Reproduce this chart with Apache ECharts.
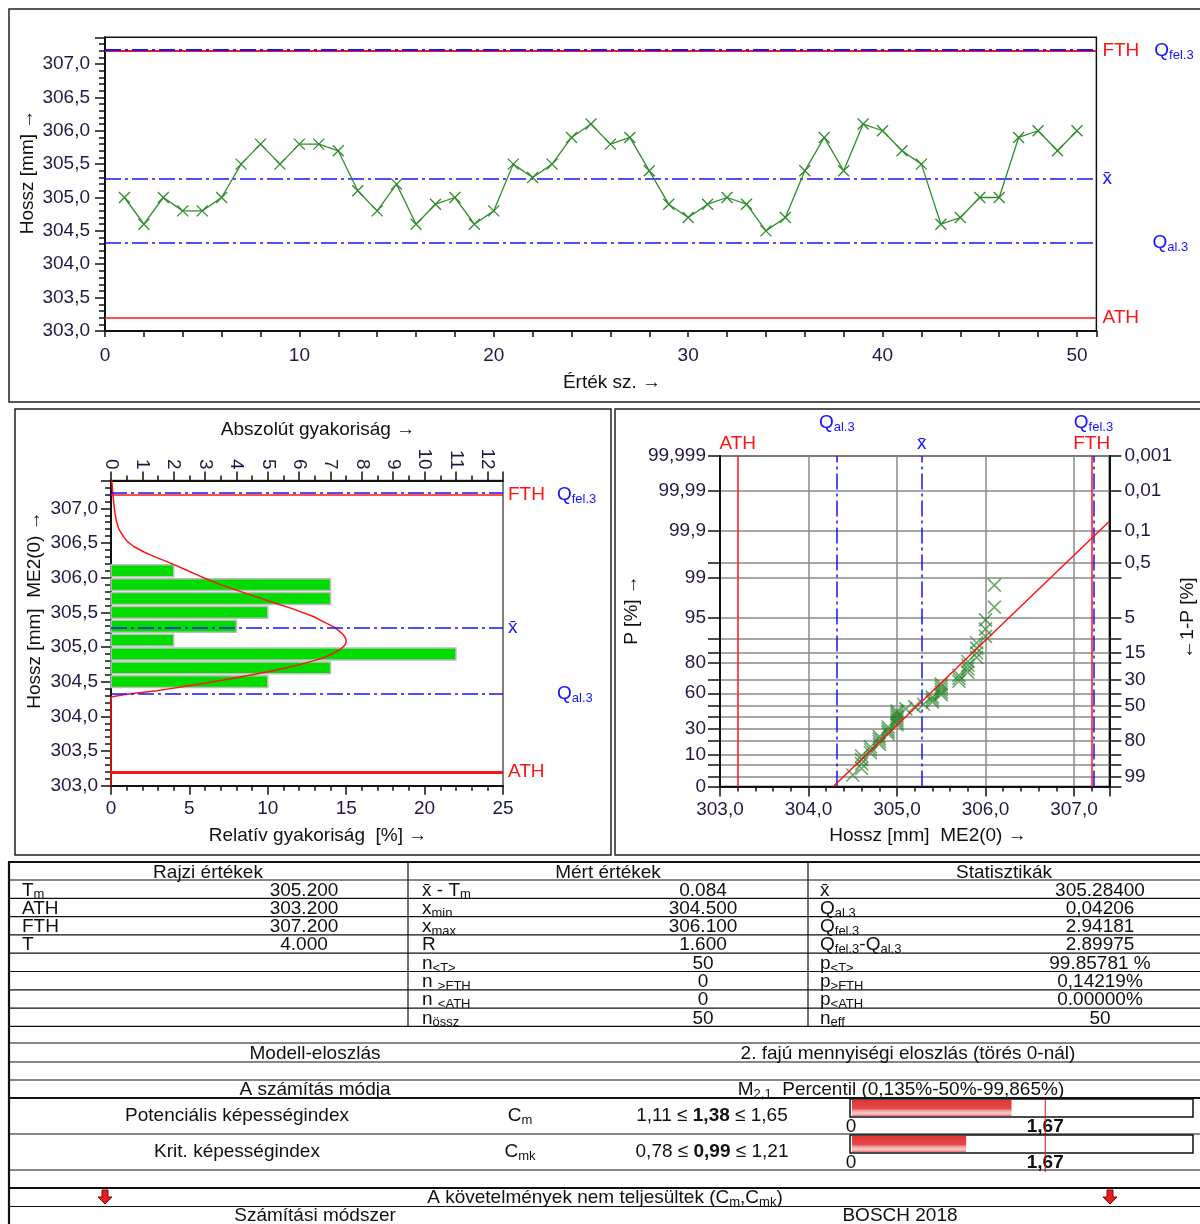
<!DOCTYPE html>
<html>
<head>
<meta charset="utf-8">
<title>Hossz – képességvizsgálat</title>
<script src="https://cdn.jsdelivr.net/npm/echarts@6/dist/echarts.min.js"></script>
<style>
  html, body { margin: 0; padding: 0; background: #fff; }
  #main { width: 1200px; height: 1224px; }
</style>
</head>
<body>
<div id="main"></div>
<script>
// ---- Measured lengths [mm], in sample order (Érték sz. 1..50) ----
const lengths = [
  305.0, 304.6, 305.0, 304.8, 304.8, 305.0, 305.5, 305.8, 305.5, 305.8,
  305.8, 305.7, 305.1, 304.8, 305.2, 304.6, 304.9, 305.0, 304.6, 304.8,
  305.5, 305.3, 305.5, 305.9, 306.1, 305.8, 305.9, 305.4, 304.9, 304.7,
  304.9, 305.0, 304.9, 304.5, 304.7, 305.4, 305.9, 305.4, 306.1, 306.0,
  305.7, 305.5, 304.6, 304.7, 305.0, 305.0, 305.9, 306.0, 305.7, 306.0
];

// ---- Tolerance data ----
const Tm = 305.2;
const ATH = 303.2;
const FTH = 307.2;
const qAl = 304.32;   // Q al.3
const qFel = 307.22;  // Q fel.3

// ---- Histogram classes (absolute counts) ----
const histLow   = [304.4, 304.6, 304.8, 305.0, 305.2, 305.4, 305.6, 305.8, 306.0];
const histHigh  = [304.6, 304.8, 305.0, 305.2, 305.4, 305.6, 305.8, 306.0, 306.2];
const histCount = [5, 7, 11, 2, 4, 5, 7, 7, 2];

// ---- Fitted density, relative frequency [%] against length ----
const densityLen = [303.0, 304.28, 304.31, 304.34, 304.37, 304.40, 304.45, 304.50, 304.55, 304.60,
  304.65, 304.70, 304.75, 304.80, 304.85, 304.90, 304.95, 305.00, 305.04, 305.08,
  305.13, 305.18, 305.24, 305.29, 305.36, 305.44, 305.55, 305.63, 305.72, 305.82,
  305.90, 305.97, 306.04, 306.11, 306.21, 306.30, 306.37, 306.45, 306.52, 306.59,
  306.70, 306.83, 306.95, 307.07, 307.25, 307.40];
const densityPct = [0, 0, 0.8, 1.8, 2.9, 3.8, 5.2, 6.5, 7.8, 9.0,
  10.2, 11.2, 12.1, 12.9, 13.6, 14.1, 14.5, 14.8, 14.95, 15.0,
  14.95, 14.8, 14.5, 14.2, 13.6, 12.9, 11.6, 10.5, 9.3, 8.0,
  7.0, 6.2, 5.5, 4.8, 3.8, 2.8, 2.1, 1.45, 1.05, 0.8,
  0.5, 0.33, 0.24, 0.18, 0.1, 0.05];

// ---- Probability plot: sorted values and their plotting positions P [%] ----
const probLen = [
  304.5, 304.6, 304.6, 304.6, 304.6, 304.7, 304.7, 304.7, 304.8, 304.8,
  304.8, 304.8, 304.9, 304.9, 304.9, 304.9, 305.0, 305.0, 305.0, 305.0,
  305.0, 305.0, 305.0, 305.1, 305.2, 305.3, 305.4, 305.4, 305.4, 305.5,
  305.5, 305.5, 305.5, 305.5, 305.7, 305.7, 305.7, 305.8, 305.8, 305.8,
  305.8, 305.9, 305.9, 305.9, 305.9, 306.0, 306.0, 306.0, 306.1, 306.1
];
const probP = [
  1.39, 3.37, 5.36, 7.34, 9.33, 11.31, 13.29, 15.28, 17.26, 19.25,
  21.23, 23.21, 25.20, 27.18, 29.17, 31.15, 33.13, 35.12, 37.10, 39.09,
  41.07, 43.06, 45.04, 47.02, 49.01, 50.99, 52.98, 54.96, 56.94, 58.93,
  60.91, 62.90, 64.88, 66.87, 68.85, 70.83, 72.82, 74.80, 76.79, 78.77,
  80.75, 82.74, 84.72, 86.71, 88.69, 90.67, 92.66, 94.64, 96.63, 98.61
];
const fitLen = [304.28, 307.4];
const fitP = [0, 99.94];

// Probability axis ticks
const pGrid = [0, 1, 5, 10, 20, 30, 40, 50, 60, 70, 80, 85, 90, 95, 99, 99.5, 99.9, 99.99, 99.999];
const pLabelsLeft = [0, 10, 30, 60, 80, 95, 99, 99.9, 99.99, 99.999];
const qLabelsRight = [99, 80, 50, 30, 15, 5, 0.5, 0.1, 0.01, 0.001];

// ---- Statistics shown in the table ----
const statTexts = ['0,04206', '2.94181', '2.89975', '99.85781 %', '0,14219%', '0.00000%', '50'];
const capNames = ['Cm', 'Cmk'];
const capLow = [1.11, 0.78];
const capValue = [1.38, 0.99];
const capHigh = [1.65, 1.21];
const capTarget = 1.67;

// ---------------------------------------------------------------
const F = 'Liberation Sans';
const FONT = '"Liberation Sans", Arial, sans-serif';
const C_RED = '#ff1414';
const C_BLUE = '#1414ff';
const C_GREEN = '#2f8c2f';
const C_AXIS = '#111';
const C_LBL = '#1b1b45';
const DASH_DOT = [16, 4, 3, 4];
const X_SYMBOL = 'path://M0 0L12 12M12 0L0 12';

const comma = (v, d) => v.toFixed(d).replace('.', ',');
const n = lengths.length;
const xBar = lengths.reduce((a, b) => a + b, 0) / n;
const xMin = Math.min(...lengths);
const xMax = Math.max(...lengths);

// probability scale of the 2nd-kind distribution: position = sqrt(-2 ln(1-P))
const probPos = p => Math.sqrt(-2 * Math.log(1 - p / 100));
const P_MAX = probPos(99.999);
function nearest(arr, fn, v) {
  let best = arr[0], d = Infinity;
  arr.forEach(a => { const dd = Math.abs(fn(a) - v); if (dd < d) { d = dd; best = a; } });
  return best;
}
const fmtP = p => String(p).replace('.', ',');
const halfStep = v => Math.abs(v * 2 - Math.round(v * 2)) < 1e-6;

const labelStyle = { color: C_LBL, fontFamily: F, fontSize: 19 };
const axisLine = { show: true, lineStyle: { color: C_AXIS, width: 2 } };

const RICH = {
  r: { color: C_RED, fontSize: 19, fontFamily: F, lineHeight: 22 },
  q: { color: C_BLUE, fontSize: 19, fontFamily: F, lineHeight: 22 },
  s: { color: C_BLUE, fontSize: 13, fontFamily: F, lineHeight: 10, verticalAlign: 'bottom' },
  b: { color: C_BLUE, fontSize: 19, fontFamily: F, lineHeight: 22 },
  g12: { width: 12 }, g15: { width: 15 }, g49: { width: 49 }, g50: { width: 50 }
};

function refLine(key, value, color, width, dashed, text, distance) {
  const d = { lineStyle: { color, width, type: dashed ? DASH_DOT : 'solid' } };
  d[key] = value;
  d.label = text
    ? { show: true, position: 'end', formatter: text, distance: distance == null ? 5 : distance, rich: RICH }
    : { show: false };
  return d;
}
function markLines(data) {
  return { symbol: ['none', 'none'], silent: true, animation: false, data };
}

// histogram bar
function histItem(params, api) {
  const lo = api.value(0), hi = api.value(1), cnt = api.value(2);
  const a = api.coord([0, hi]);
  const b = api.coord([cnt, lo]);
  return {
    type: 'rect',
    shape: { x: a[0], y: a[1] + 1, width: b[0] - a[0], height: b[1] - a[1] - 2 },
    style: { fill: '#00dc00', stroke: '#bdbdbd', lineWidth: 1.5 }
  };
}

// capability index bar with its target marker
function capGradient() {
  return new echarts.graphic.LinearGradient(0, 0, 0, 1, [
    { offset: 0, color: '#e03434' }, { offset: 0.55, color: '#e44a4a' },
    { offset: 0.65, color: '#f29a9a' }, { offset: 0.85, color: '#f8cccc' }, { offset: 1, color: '#e77070' }
  ]);
}
function capItem(params, api) {
  const cs = params.coordSys;
  const v = api.value(0), t = api.value(1);
  const x0 = api.coord([0, 0])[0];
  const xv = api.coord([v, 0])[0];
  const xt = api.coord([t, 0])[0];
  const boxH = 18;
  return {
    type: 'group',
    children: [
      { type: 'rect', shape: { x: cs.x - 1, y: cs.y, width: cs.width + 1, height: boxH },
        style: { fill: '#fff', stroke: '#111', lineWidth: 1.5 } },
      { type: 'rect', shape: { x: x0 + 1, y: cs.y + 1, width: xv - x0 - 1, height: boxH - 2 },
        style: { fill: capGradient() } },
      { type: 'line', shape: { x1: xt, y1: cs.y, x2: xt, y2: cs.y + cs.height },
        style: { stroke: '#e01010', lineWidth: 1 } }
    ]
  };
}

// ---- graphic helpers (titles, frames, table) ----
const G = [];
function gText(x, y, text, o) {
  o = o || {};
  const st = {
    text, fill: o.color || '#111', fontSize: o.size || 19, fontFamily: FONT,
    fontWeight: o.weight || 'normal',
    align: o.align || 'left', verticalAlign: 'middle',
    textAlign: o.align || 'left', textVerticalAlign: 'middle'
  };
  if (o.rich) st.rich = o.rich;
  G.push({ type: 'text', x, y, rotation: o.rot || 0, silent: true, z: 20, style: st });
}
function gLine(x1, y1, x2, y2, w, color) {
  G.push({ type: 'line', silent: true, z: 15, shape: { x1, y1, x2, y2 },
    style: { stroke: color || '#111', lineWidth: w || 1 } });
}
function gRect(x, y, w, h) {
  G.push({ type: 'rect', silent: true, z: 0, shape: { x, y, width: w, height: h },
    style: { fill: 'none', stroke: '#222', lineWidth: 1.5 } });
}
function gArrow(x, y) {
  G.push({ type: 'polygon', silent: true, z: 20,
    shape: { points: [[x - 3, y - 7], [x + 3, y - 7], [x + 3, y], [x + 7, y], [x, y + 7], [x - 7, y], [x - 3, y]] },
    style: { fill: '#e41e1e', stroke: '#8a0000', lineWidth: 1 } });
}

const RG = {
  n: { fontSize: 19, fontFamily: FONT, fill: '#111', lineHeight: 22 },
  s: { fontSize: 13, fontFamily: FONT, fill: '#111', lineHeight: 10, verticalAlign: 'bottom' },
  b: { fontSize: 19, fontFamily: FONT, fill: '#111', fontWeight: 'bold', lineHeight: 22 }
};

// panel frames
gRect(9, 9, 1200, 393);
gRect(15, 409, 596, 446);
gRect(615, 409, 600, 446);

// axis titles
gText(28, 172, 'Hossz [mm] →', { rot: Math.PI / 2, align: 'center' });
gText(612, 383, 'Érték sz. →', { align: 'center' });
gText(318, 430, 'Abszolút gyakoriság →', { align: 'center' });
gText(318, 836, 'Relatív gyakoriság  [%] →', { align: 'center' });
gText(35, 610, 'Hossz [mm]  ME2(0) →', { rot: Math.PI / 2, align: 'center' });
gText(632, 610, 'P [%] →', { rot: Math.PI / 2, align: 'center' });
gText(1188, 618, '←1-P [%]', { rot: Math.PI / 2, align: 'center' });
gText(928, 836, 'Hossz [mm]  ME2(0) →', { align: 'center' });

// ---- table ----
const rowBottoms = [880, 898.3, 916.6, 934.9, 953.2, 971.5, 989.8, 1008.1, 1026.4];
[...rowBottoms, 1043, 1062, 1080, 1134, 1170, 1206.5].forEach(y => gLine(8, y, 1200, y, 1.2));
[862, 1098, 1188].forEach(y => gLine(8, y, 1200, y, 2.2));
gLine(9, 862, 9, 1224, 2.2);
gLine(408, 862, 408, 1026.4, 1.2);
gLine(808, 862, 808, 1026.4, 1.2);

gText(208, 873, 'Rajzi értékek', { align: 'center' });
gText(608, 873, 'Mért értékek', { align: 'center' });
gText(1004, 873, 'Statisztikák', { align: 'center' });

const rowY = i => rowBottoms[i + 1] - 8;
const col1Labels = ['{n|T}{s|m}', '{n|ATH}', '{n|FTH}', '{n|T}'];
const col1Values = [Tm.toFixed(3), ATH.toFixed(3), FTH.toFixed(3), (FTH - ATH).toFixed(3)];
col1Labels.forEach((t, i) => {
  gText(22, rowY(i), t, { rich: RG });
  gText(304, rowY(i), col1Values[i], { align: 'center' });
});
const col2Labels = ['{n|x\u0304 - T}{s|m}', '{n|x}{s|min}', '{n|x}{s|max}', '{n|R}',
  '{n|n}{s|<T>}', '{n|n }{s|>FTH}', '{n|n }{s|<ATH}', '{n|n}{s|össz}'];
const col2Values = [(xBar - Tm).toFixed(3), xMin.toFixed(3), xMax.toFixed(3), (xMax - xMin).toFixed(3),
  String(lengths.filter(v => v >= ATH && v <= FTH).length),
  String(lengths.filter(v => v > FTH).length), String(lengths.filter(v => v < ATH).length), String(n)];
col2Labels.forEach((t, i) => {
  gText(422, rowY(i), t, { rich: RG });
  gText(703, rowY(i), col2Values[i], { align: 'center' });
});
const col3Labels = ['{n|x\u0304}', '{n|Q}{s|al.3}', '{n|Q}{s|fel.3}', '{n|Q}{s|fel.3}{n|-Q}{s|al.3}',
  '{n|p}{s|<T>}', '{n|p}{s|>FTH}', '{n|p}{s|<ATH}', '{n|n}{s|eff}'];
const col3Values = [xBar.toFixed(5), ...statTexts];
col3Labels.forEach((t, i) => {
  gText(820, rowY(i), t, { rich: RG });
  gText(1100, rowY(i), col3Values[i], { align: 'center' });
});

gText(315, 1054, 'Modell-eloszlás', { align: 'center' });
gText(908, 1054, '2. fajú mennyiségi eloszlás (törés 0-nál)', { align: 'center' });
gText(315, 1090, 'A számítás módja', { align: 'center' });
gText(901, 1090, '{n|M}{s|2,1}{n|  Percentil (0,135%-50%-99,865%)}', { align: 'center', rich: RG });

const capTitles = ['Potenciális képességindex', 'Krit. képességindex'];
const capRowY = [1116, 1152];
capNames.forEach((nm, i) => {
  gText(237, capRowY[i], capTitles[i], { align: 'center' });
  gText(520, capRowY[i], '{n|C}{s|' + nm.slice(1) + '}', { align: 'center', rich: RG });
  gText(712, capRowY[i], '{n|' + comma(capLow[i], 2) + ' ≤ }{b|' + comma(capValue[i], 2) + '}{n| ≤ ' + comma(capHigh[i], 2) + '}',
    { align: 'center', rich: RG });
});
gText(605, 1198, '{n|A követelmények nem teljesültek (C}{s|m}{n|,C}{s|mk}{n|)}', { align: 'center', rich: RG });
gArrow(105, 1197);
gArrow(1110, 1197);
gText(315, 1216, 'Számítási módszer', { align: 'center' });
gText(900, 1216, 'BOSCH 2018', { align: 'center' });

// ---------------------------------------------------------------
const chart = echarts.init(document.getElementById('main'), null, { renderer: 'canvas' });

const capAxisLabel = { inside: true, margin: 0, customValues: [0, capTarget], color: '#111', fontFamily: F, fontSize: 19,
  formatter: v => (v === 0 ? '0' : '{t|' + comma(v, 2) + '}'),
  rich: { t: { fontWeight: 'bold', fontFamily: F, fontSize: 19, color: '#111' } } };

const option = {
  animation: false,
  backgroundColor: '#fff',
  textStyle: { fontFamily: F },
  grid: [
    { left: 105, top: 37.3, width: 991.4, height: 293.7, show: true, borderColor: C_AXIS, borderWidth: 1.5, outerBoundsMode: 'none', containLabel: false },
    { left: 111, top: 480.6, width: 392, height: 305.1, show: true, borderColor: '#555', borderWidth: 1.5, outerBoundsMode: 'none', containLabel: false },
    { left: 720, top: 456, width: 389.4, height: 330.5, show: true, borderColor: C_AXIS, borderWidth: 1.5, outerBoundsMode: 'none', containLabel: false },
    { left: 851, top: 1099, width: 342, height: 37, show: false, outerBoundsMode: 'none', containLabel: false },
    { left: 851, top: 1135, width: 342, height: 37, show: false, outerBoundsMode: 'none', containLabel: false }
  ],
  xAxis: [
    { // run chart: sample number
      gridIndex: 0, type: 'value', min: 0, max: 51, interval: 2,
      axisLine, axisTick: { show: true, length: 6, lineStyle: { color: C_AXIS, width: 1.5 } },
      axisLabel: Object.assign({ margin: 15, formatter: v => (Math.abs(v % 10) < 1e-9 ? String(v) : '') }, labelStyle),
      splitLine: { show: false }
    },
    { // histogram: relative frequency
      gridIndex: 1, type: 'value', position: 'bottom', min: 0, max: 25, interval: 5,
      axisLine, axisTick: { show: true, length: 9, lineStyle: { color: C_AXIS, width: 1.5 } },
      minorTick: { show: true, splitNumber: 5, length: 5, lineStyle: { color: C_AXIS, width: 1.5 } },
      axisLabel: Object.assign({ margin: 14 }, labelStyle),
      splitLine: { show: false }
    },
    { // histogram: absolute frequency
      gridIndex: 1, type: 'value', position: 'top', min: 0, max: 12.5, interval: 1,
      axisLine, axisTick: { show: true, length: 9, lineStyle: { color: C_AXIS, width: 1.5 } },
      minorTick: { show: true, splitNumber: 2, length: 5, lineStyle: { color: C_AXIS, width: 1.5 } },
      axisLabel: Object.assign({ margin: 11, rotate: 90, formatter: v => (Math.abs(v - Math.round(v)) < 1e-9 ? String(v) : '') }, labelStyle),
      splitLine: { show: false }
    },
    { // probability plot: length
      gridIndex: 2, type: 'value', min: 303, max: 307.4, interval: 1,
      axisLine, axisTick: { show: true, length: 10, lineStyle: { color: C_AXIS, width: 1.5 } },
      minorTick: { show: true, splitNumber: 5, length: 5, lineStyle: { color: C_AXIS, width: 1.5 } },
      axisLabel: Object.assign({ margin: 14, formatter: v => (Math.abs(v - Math.round(v)) < 1e-9 ? comma(v, 1) : '') }, labelStyle),
      splitLine: { show: true, lineStyle: { color: '#8a8a8a', width: 1.5 } }
    },
    { // Cm scale
      gridIndex: 3, type: 'value', min: 0, max: 2.94,
      axisLine: { show: false }, axisTick: { show: false }, splitLine: { show: false },
      axisLabel: capAxisLabel
    },
    { // Cmk scale
      gridIndex: 4, type: 'value', min: 0, max: 2.94,
      axisLine: { show: false }, axisTick: { show: false }, splitLine: { show: false },
      axisLabel: capAxisLabel
    }
  ],
  yAxis: [
    { // run chart: length
      gridIndex: 0, type: 'value', min: 303, max: 307.4, interval: 0.5,
      axisLine, axisTick: { show: true, length: 10, lineStyle: { color: C_AXIS, width: 1.5 } },
      minorTick: { show: true, splitNumber: 5, length: 6, lineStyle: { color: C_AXIS, width: 1.5 } },
      axisLabel: Object.assign({ margin: 15, formatter: v => (halfStep(v) ? comma(v, 1) : '') }, labelStyle),
      splitLine: { show: false }
    },
    { // histogram: length
      gridIndex: 1, type: 'value', min: 303, max: 307.4, interval: 0.5,
      axisLine, axisTick: { show: true, length: 10, lineStyle: { color: C_AXIS, width: 1.5 } },
      minorTick: { show: true, splitNumber: 5, length: 6, lineStyle: { color: C_AXIS, width: 1.5 } },
      axisLabel: Object.assign({ margin: 13, formatter: v => (halfStep(v) ? comma(v, 1) : '') }, labelStyle),
      splitLine: { show: false }
    },
    { // probability plot: P [%]
      gridIndex: 2, type: 'value', position: 'left', min: 0, max: P_MAX,
      axisLine,
      axisTick: { show: true, length: 12, customValues: pGrid.map(probPos), lineStyle: { color: C_AXIS, width: 1.5 } },
      axisLabel: Object.assign({ margin: 14, customValues: pLabelsLeft.map(probPos),
        formatter: v => fmtP(nearest(pLabelsLeft, probPos, v)) }, labelStyle),
      splitLine: { show: true, lineStyle: { color: '#8a8a8a', width: 1.5 } }
    },
    { // probability plot: 1-P [%]
      gridIndex: 2, type: 'value', position: 'right', min: 0, max: P_MAX,
      axisLine,
      axisTick: { show: true, length: 12, customValues: pGrid.map(probPos), lineStyle: { color: C_AXIS, width: 1.5 } },
      axisLabel: Object.assign({ margin: 15, customValues: qLabelsRight.map(q => probPos(100 - q)),
        formatter: v => fmtP(nearest(qLabelsRight, q => probPos(100 - q), v)) }, labelStyle),
      splitLine: { show: false }
    },
    { gridIndex: 3, type: 'value', min: 0, max: 1, show: false },
    { gridIndex: 4, type: 'value', min: 0, max: 1, show: false }
  ],
  series: [
    { // run chart
      type: 'line', xAxisIndex: 0, yAxisIndex: 0, z: 5,
      data: lengths.map((v, i) => [i + 1, v]),
      symbol: X_SYMBOL, symbolSize: 11,
      lineStyle: { color: C_GREEN, width: 1.3 },
      itemStyle: { color: 'rgba(0,0,0,0)', borderColor: C_GREEN, borderWidth: 1.3 },
      markLine: markLines([
        refLine('yAxis', ATH, C_RED, 1.5, false, '{r|ATH}', 6),
        refLine('yAxis', FTH, C_RED, 2, false, '{r|FTH}{g15| }{q|Q}{s|fel.3}', 6),
        refLine('yAxis', qFel, C_BLUE, 2, true, null),
        refLine('yAxis', xBar, C_BLUE, 1.5, true, '{b|x\u0304}', 6),
        refLine('yAxis', qAl, C_BLUE, 1.5, true, '{g50| }{q|Q}{s|al.3}', 6)
      ])
    },
    { // histogram bars
      type: 'custom', xAxisIndex: 2, yAxisIndex: 1, z: 2,
      data: histCount.map((c, i) => [histLow[i], histHigh[i], c]),
      encode: { x: 2, y: [0, 1] },
      renderItem: histItem
    },
    { // density, lower tail along the axis
      type: 'line', xAxisIndex: 1, yAxisIndex: 1, z: 4, showSymbol: false, symbol: 'none',
      data: densityPct.slice(0, 2).map((p, i) => [p, densityLen[i]]),
      lineStyle: { color: C_RED, width: 1.5 }
    },
    { // density curve
      type: 'line', xAxisIndex: 1, yAxisIndex: 1, z: 4, showSymbol: false, symbol: 'none',
      smooth: false,
      data: densityPct.slice(1).map((p, i) => [p, densityLen[i + 1]]),
      lineStyle: { color: C_RED, width: 1.5, join: 'round' },
      markLine: markLines([
        refLine('yAxis', FTH, C_RED, 1.5, false, '{r|FTH}{g12| }{q|Q}{s|fel.3}', 5),
        refLine('yAxis', qFel, C_BLUE, 1.5, true, null),
        refLine('yAxis', xBar, C_BLUE, 1.5, true, '{b|x\u0304}', 5),
        refLine('yAxis', qAl, C_BLUE, 1.5, true, '{g49| }{q|Q}{s|al.3}', 5),
        refLine('yAxis', ATH, C_RED, 3, false, '{r|ATH}', 5)
      ])
    },
    { // probability plot points
      type: 'scatter', xAxisIndex: 3, yAxisIndex: 2, z: 5,
      data: probLen.map((x, i) => [x, probPos(probP[i])]),
      symbol: X_SYMBOL, symbolSize: 13,
      itemStyle: { color: 'rgba(0,0,0,0)', borderColor: 'rgba(38,128,38,0.85)', borderWidth: 1.6 }
    },
    { // fitted distribution line
      type: 'line', xAxisIndex: 3, yAxisIndex: 2, z: 6, showSymbol: false, symbol: 'none',
      data: fitLen.map((x, i) => [x, probPos(fitP[i])]),
      lineStyle: { color: C_RED, width: 1.5 },
      markLine: markLines([
        refLine('xAxis', ATH, C_RED, 1.5, false, '{r|ATH}', 1),
        refLine('xAxis', qAl, C_BLUE, 1.5, true, '{q|Q}{s|al.3}', 22),
        refLine('xAxis', xBar, C_BLUE, 1.5, true, '{b|x\u0304}', 1),
        refLine('xAxis', FTH, C_RED, 1.5, false, '{r|FTH}', 1),
        refLine('xAxis', qFel, C_BLUE, 1.5, true, '{q|Q}{s|fel.3}', 22)
      ])
    },
    { // Cm
      type: 'custom', xAxisIndex: 4, yAxisIndex: 4, z: 3,
      data: [[capValue[0], capTarget]], encode: { x: 0 }, renderItem: capItem
    },
    { // Cmk
      type: 'custom', xAxisIndex: 5, yAxisIndex: 5, z: 3,
      data: [[capValue[1], capTarget]], encode: { x: 0 }, renderItem: capItem
    }
  ],
  graphic: { elements: G }
};

chart.setOption(option);
</script>
</body>
</html>
